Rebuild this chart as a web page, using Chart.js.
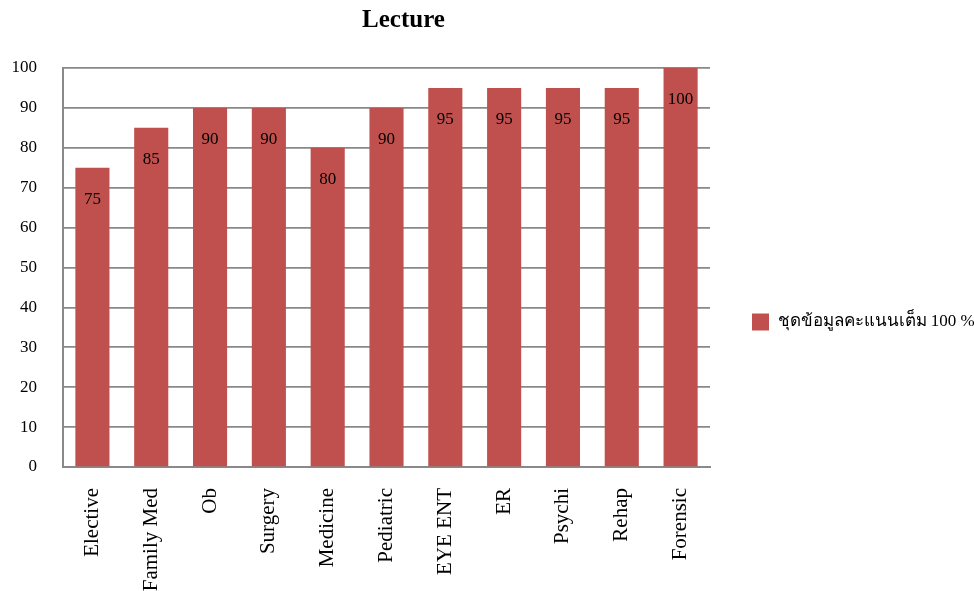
<!DOCTYPE html>
<html>
<head>
<meta charset="utf-8">
<script src="https://cdn.jsdelivr.net/npm/chart.js@4.4.0/dist/chart.umd.min.js"></script>
<style>
  body { margin: 0; background: #fff; }
</style>
</head>
<body>
<canvas id="chart" width="974" height="591"></canvas>
<script>
var categories = ['Elective', 'Family Med', 'Ob', 'Surgery', 'Medicine', 'Pediatric', 'EYE ENT', 'ER', 'Psychi', 'Rehap', 'Forensic'];
var scores = [75, 85, 90, 90, 80, 90, 95, 95, 95, 95, 100];
var yTicks = [0, 10, 20, 30, 40, 50, 60, 70, 80, 90, 100];
var seriesName = 'ชุดข้อมูลคะแนนเต็ม 100 %';

var serif = '"Liberation Serif", "Times New Roman", serif';
var gridGray = '#898989';

// value written inside each bar, a little under its top
var barValues = {
    id: 'barValues',
    afterDatasetsDraw: function(chart) {
        var ctx = chart.ctx;
        var meta = chart.getDatasetMeta(0);
        ctx.save();
        ctx.font = '17px ' + serif;
        ctx.fillStyle = '#000';
        ctx.textAlign = 'center';
        ctx.textBaseline = 'middle';
        meta.data.forEach(function(bar, i) {
            ctx.fillText(String(scores[i]), bar.x, bar.y + 32);
        });
        ctx.restore();
    }
};

// the layout caps a side legend at a quarter of the width; give it the room it needs
// and nudge the title a bit right of the plot centre like the original
var layoutTweaks = {
    id: 'layoutTweaks',
    afterInit: function(chart) {
        var legend = chart.legend;
        if (!legend) return;
        var fit = legend.fit;
        legend.fit = function() {
            fit.call(this);
            this.width = 264;
        };
    },
    afterLayout: function(chart) {
        if (chart.titleBlock) chart.titleBlock.right += 34;
    }
};

var ctx = document.getElementById('chart').getContext('2d');
new Chart(ctx, {
    type: 'bar',
    data: {
        labels: categories,
        datasets: [{
            label: seriesName,
            data: scores,
            backgroundColor: '#C0504D',
            borderWidth: 0,
            barPercentage: 0.58,
            categoryPercentage: 1
        }]
    },
    options: {
        responsive: false,
        animation: false,
        layout: { padding: { left: 11, right: 0, top: 0, bottom: 0 } },
        plugins: {
            title: {
                display: true,
                text: 'Lecture',
                fullSize: false,
                color: '#000',
                font: { family: serif, size: 25, weight: 'bold' },
                padding: { top: 6, bottom: 32 }
            },
            legend: {
                position: 'right',
                title: {
                    display: true,
                    text: '',
                    font: { size: 10 },
                    padding: { top: 20, bottom: 21 }
                },
                labels: {
                    color: '#000',
                    font: { family: serif, size: 17 },
                    boxWidth: 17,
                    boxHeight: 17,
                    padding: 42
                }
            },
            tooltip: { enabled: false }
        },
        scales: {
            x: {
                grid: { display: false, drawTicks: false },
                border: { color: gridGray, width: 2 },
                ticks: {
                    color: '#000',
                    font: { family: serif, size: 21 },
                    minRotation: 90,
                    maxRotation: 90,
                    padding: 21,
                    autoSkip: false
                },
                afterFit: function(scale) {
                    scale.paddingLeft = 0;
                    scale.paddingRight = 0;
                    scale.height = 124;
                }
            },
            y: {
                min: 0,
                max: 100,
                afterBuildTicks: function(scale) {
                    scale.ticks = yTicks.map(function(v) { return { value: v }; });
                },
                grid: { color: gridGray, lineWidth: 1.7, drawTicks: false },
                border: { color: gridGray, width: 2 },
                ticks: {
                    color: '#000',
                    font: { family: serif, size: 17 },
                    padding: 26
                },
                afterFit: function(scale) {
                    scale.width = 52;
                }
            }
        }
    },
    plugins: [barValues, layoutTweaks]
});
</script>
</body>
</html>
